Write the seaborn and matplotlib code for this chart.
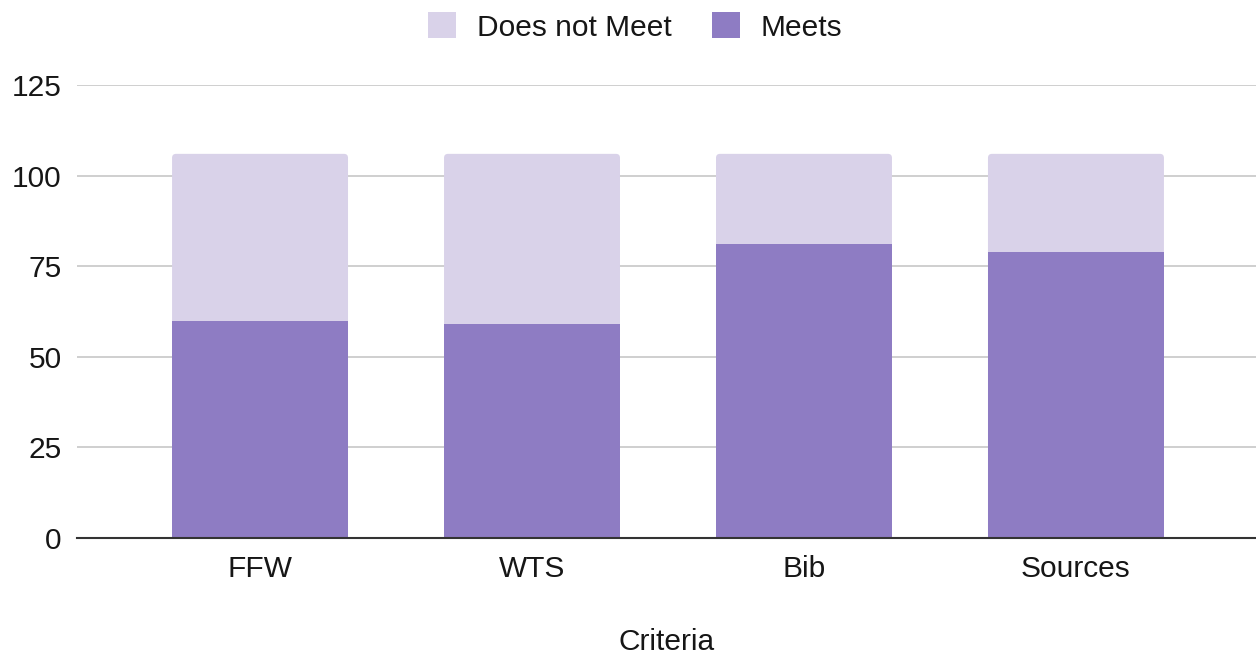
import matplotlib
matplotlib.use("Agg")
import matplotlib.pyplot as plt
from matplotlib.patches import Patch, FancyBboxPatch
import seaborn as sns
import pandas as pd

criteria = ["FFW", "WTS", "Bib", "Sources"]
meets = [60, 59, 81, 79]
does_not_meet = [46, 47, 25, 27]
y_ticks = [0, 25, 50, 75, 100, 125]

MEETS_COLOR = "#8e7cc3"
NOT_COLOR = "#d9d2e9"
TEXT_COLOR = "#161616"
FS = 21.5

sns.set_theme(style="white")
plt.rcParams["font.family"] = ["Liberation Sans", "DejaVu Sans"]

df = pd.DataFrame({
    "Criteria": criteria,
    "Meets": meets,
    "Does not Meet": does_not_meet,
})
df["Total"] = df["Meets"] + df["Does not Meet"]

fig = plt.figure(figsize=(12.56, 6.54), dpi=100)
ax = fig.add_axes([77 / 1256, 1 - 538 / 654, (1256 - 77) / 1256, (538 - 85) / 654])

# stacked bars: full height in the light colour, "Meets" drawn over it
sns.barplot(data=df, x="Criteria", y="Total", color=NOT_COLOR, width=0.647,
            saturation=1, ax=ax, zorder=2)
n_total = len(ax.patches)
sns.barplot(data=df, x="Criteria", y="Meets", color=MEETS_COLOR, width=0.647,
            saturation=1, ax=ax, zorder=3)
for p in ax.patches:
    p.set_edgecolor("none")

ax.set_ylim(0, 125)
ax.set_xlim(-0.673, 3.662)

# give the top of each stack slightly rounded corners
x_px = ax.get_window_extent().width / (3.662 + 0.673)
y_px = ax.get_window_extent().height / 125
r = 4 / x_px
for p in list(ax.patches)[:n_total]:
    x0, y0 = p.get_x(), p.get_y()
    w, h = p.get_width(), p.get_height()
    rounded = FancyBboxPatch((x0, y0), w, h,
                             boxstyle=f"round,pad=0,rounding_size={r}",
                             mutation_aspect=x_px / y_px,
                             facecolor=NOT_COLOR, edgecolor="none", zorder=2)
    p.set_visible(False)
    ax.add_patch(rounded)

ax.set_yticks(y_ticks)
ax.set_yticklabels([str(t) for t in y_ticks], fontsize=FS, color=TEXT_COLOR)
ax.tick_params(axis="x", labelsize=FS, colors=TEXT_COLOR, length=0, pad=12)
ax.tick_params(axis="y", length=0, pad=11)
ax.yaxis.grid(True, color="#cccccc", linewidth=1.3, zorder=0)
ax.set_axisbelow(True)
for s in ["top", "right", "left"]:
    ax.spines[s].set_visible(False)
ax.spines["bottom"].set_color("#333333")
ax.spines["bottom"].set_linewidth(1.5)
ax.spines["bottom"].set_zorder(5)

ax.set_ylabel("")
ax.set_xlabel("Criteria", fontsize=FS, color=TEXT_COLOR, labelpad=33)

handles = [Patch(facecolor=NOT_COLOR, edgecolor="none", label="Does not Meet"),
           Patch(facecolor=MEETS_COLOR, edgecolor="none", label="Meets")]
fig.legend(handles=handles, loc="center", bbox_to_anchor=(635 / 1256, 1 - 27 / 654),
           ncol=2, frameon=False, fontsize=FS, handlelength=0.94, handleheight=0.94,
           handletextpad=0.7, columnspacing=1.34, labelcolor=TEXT_COLOR)

fig.savefig("out.png", dpi=100)
